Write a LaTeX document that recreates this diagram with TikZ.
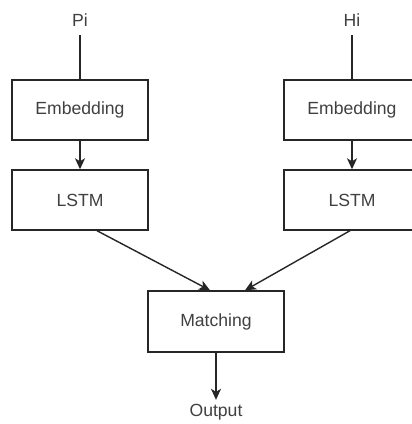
\documentclass[tikz,border=0pt]{standalone}
\usepackage{fontspec}
\setmainfont{Liberation Sans}
\usetikzlibrary{arrows.meta,calc}
\tikzset{
  box/.style={draw=black!85, line width=1.4pt, fill=white, minimum width=136pt, minimum height=60pt, inner sep=0pt, text=black!75, font=\fontsize{17.6}{20}\selectfont},
  lbl/.style={text=black!75, font=\fontsize{17.6}{20}\selectfont, inner sep=0pt},
  conn/.style={draw=black!85, line width=1.4pt},
  arr/.style={conn, -{Stealth[length=11pt,width=10pt,inset=3pt]}},
}
\begin{document}
\begin{tikzpicture}[x=1pt,y=-1pt]
\clip (0,0) rectangle (412,424);
\fill[white] (0,0) rectangle (412,424);
\node[lbl] (pi) at (80,20) {Pi};
\node[lbl] (hi) at (352,20) {Hi};
\node[box] (emb1) at (80,110) {Embedding};
\node[box] (lstm1) at (80,200) {LSTM};
\node[box] (emb2) at (352,110) {Embedding};
\node[box] (lstm2) at (352,200) {LSTM};
\node[box, minimum height=61pt] (match) at (216,321.5) {Matching};
\node[lbl] (out) at (216,412) {Output};
\coordinate (pis) at (80,35);
\coordinate (his) at (352,35);
\draw[conn] (pis) -- (emb1.north);
\draw[conn] (his) -- (emb2.north);
\draw[arr] (emb1.south) -- (lstm1.north);
\draw[arr] (emb2.south) -- (lstm2.north);
\draw[arr] ($(lstm1.south)+(17,0)$) -- ($(match.north)+(-6,0)$);
\draw[arr] ($(lstm2.south)+(-2,0)$) -- ($(match.north)+(29,0)$);
\draw[arr] (match.south) -- ($(out.north)+(0,-4)$);
\end{tikzpicture}
\end{document}
